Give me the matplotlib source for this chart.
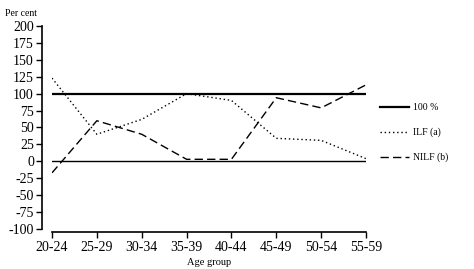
import matplotlib
matplotlib.use("Agg")
import matplotlib.pyplot as plt

age_groups = ["20-24", "25-29", "30-34", "35-39", "40-44", "45-49", "50-54", "55-59"]
hundred = [100, 100, 100, 100, 100, 100, 100, 100]
ilf = [123, 40, 62, 100, 90, 34, 31, 4]
nilf = [-17, 60, 40, 3, 3, 94, 79, 113]
yticks = [200, 175, 150, 125, 100, 75, 50, 25, 0, -25, -50, -75, -100]

plt.rcParams['font.family'] = ['Liberation Serif', 'DejaVu Serif']

W, H = 474, 269
fig = plt.figure(figsize=(W / 100, H / 100), dpi=100)
ax = fig.add_axes([52 / W, 1 - 229 / H, (366 - 52) / W, (229 - 26) / H])

x = list(range(len(age_groups)))
ax.plot(x, hundred, color='black', lw=1.6, label='100 %')
ax.plot(x, ilf, color='black', lw=1.0, linestyle=(0, (1, 2)), label='ILF (a)')
ax.plot(x, nilf, color='black', lw=1.0, linestyle=(0, (6, 3)), label='NILF (b)')
ax.axhline(0, color='black', lw=1.0)

ax.set_xlim(0, len(age_groups) - 1)
ax.set_ylim(-100, 200)
ax.set_xticks(x)
ax.set_xticklabels(age_groups, fontsize=7.5)
ax.set_yticks(yticks)
ax.set_yticklabels([str(v) for v in yticks], fontsize=7.2)
ax.spines['top'].set_visible(False)
ax.spines['right'].set_visible(False)
ax.spines['left'].set_position(('outward', 7))
ax.spines['bottom'].set_position(('outward', 2.5))
ax.spines['left'].set_linewidth(1.2)
ax.spines['bottom'].set_linewidth(1.2)
ax.tick_params(axis='both', direction='out', length=4, width=1.0, pad=2)
ax.set_xlabel('Age group', fontsize=7.5, labelpad=3)

fig.text(5 / W, 1 - 14 / H, 'Per cent', fontsize=7, va='center', ha='left')

leg = ax.legend(loc='upper left', bbox_to_anchor=(380 / W, 1 - 103 / H),
                bbox_transform=fig.transFigure, frameon=False, fontsize=7,
                handlelength=3.0, handletextpad=0.4, labelspacing=1.6,
                borderaxespad=0, borderpad=0)

fig.savefig('out.png', dpi=100)
